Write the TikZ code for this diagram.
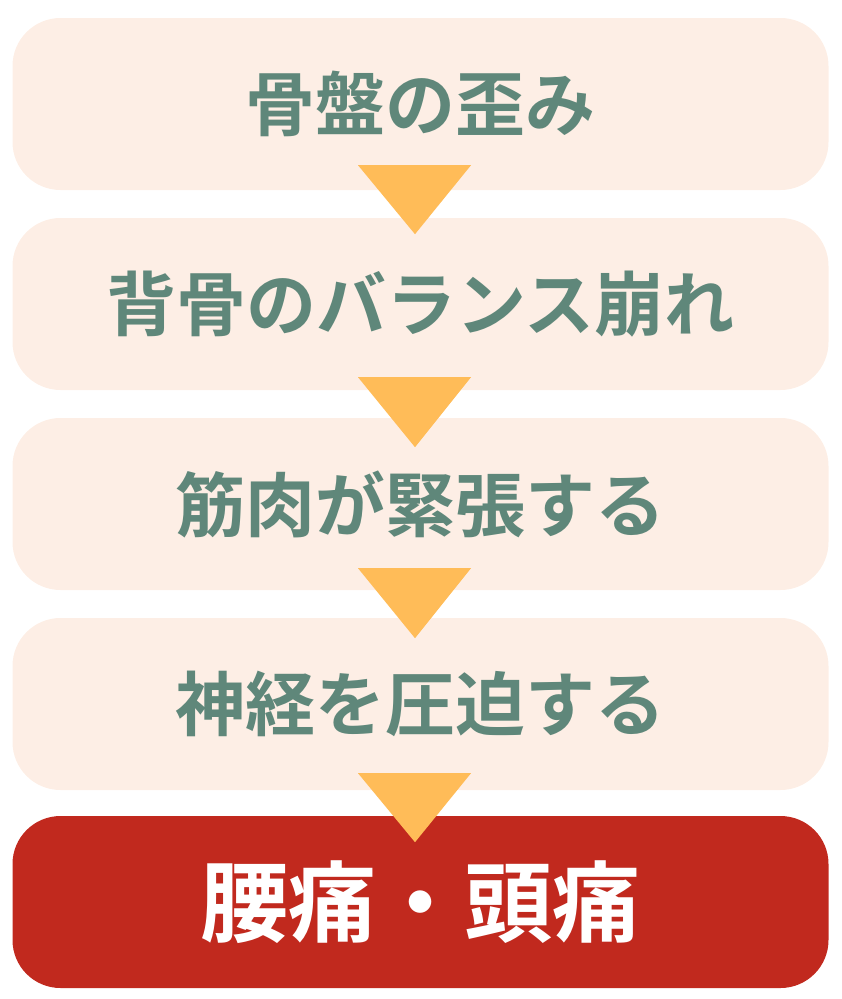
\documentclass[tikz,border=0pt]{standalone}
\usepackage{fontspec}
\newfontfamily\jp{Noto Sans CJK JP Bold}
\usetikzlibrary{calc}
\definecolor{boxfill}{HTML}{FDEEE5}
\definecolor{boxtext}{HTML}{5F877A}
\definecolor{redfill}{HTML}{C1291E}
\definecolor{trifill}{HTML}{FFBC58}
\tikzset{
  stepbox/.style={rectangle, rounded corners=48pt, fill=boxfill, text=boxtext,
    minimum width=816pt, minimum height=172pt, inner sep=0pt,
    font=\jp\fontsize{70pt}{80pt}\selectfont},
  finalbox/.style={stepbox, fill=redfill, text=white,
    font=\jp\fontsize{88pt}{98pt}\selectfont},
  arrowtri/.style={fill=trifill}
}
\begin{document}
\begin{tikzpicture}[x=1pt,y=-1pt]
\useasboundingbox (0,0) rectangle (841,999);
\node[stepbox] (b1) at (420.5,104) {骨盤の歪み};
\node[stepbox] (b2) at (420.5,304) {背骨のバランス崩れ};
\node[stepbox] (b3) at (420.5,504) {筋肉が緊張する};
\node[stepbox] (b4) at (420.5,704) {神経を圧迫する};
\node[finalbox] (b5) at (420.5,902) {腰痛・頭痛};
\fill[arrowtri] ($(b1.south)+(-62.5,-25)$) -- ++(113,0) -- ($(b1.south)+(-5.5,44)$) -- cycle;
\fill[arrowtri] ($(b2.south)+(-62.5,-13)$) -- ++(113,0) -- ($(b2.south)+(-5.5,57)$) -- cycle;
\fill[arrowtri] ($(b3.south)+(-62.5,-22)$) -- ++(113,0) -- ($(b3.south)+(-5.5,48)$) -- cycle;
\fill[arrowtri] ($(b4.south)+(-62.5,-17)$) -- ++(113,0) -- ($(b4.south)+(-5.5,52)$) -- cycle;
\end{tikzpicture}
\end{document}
